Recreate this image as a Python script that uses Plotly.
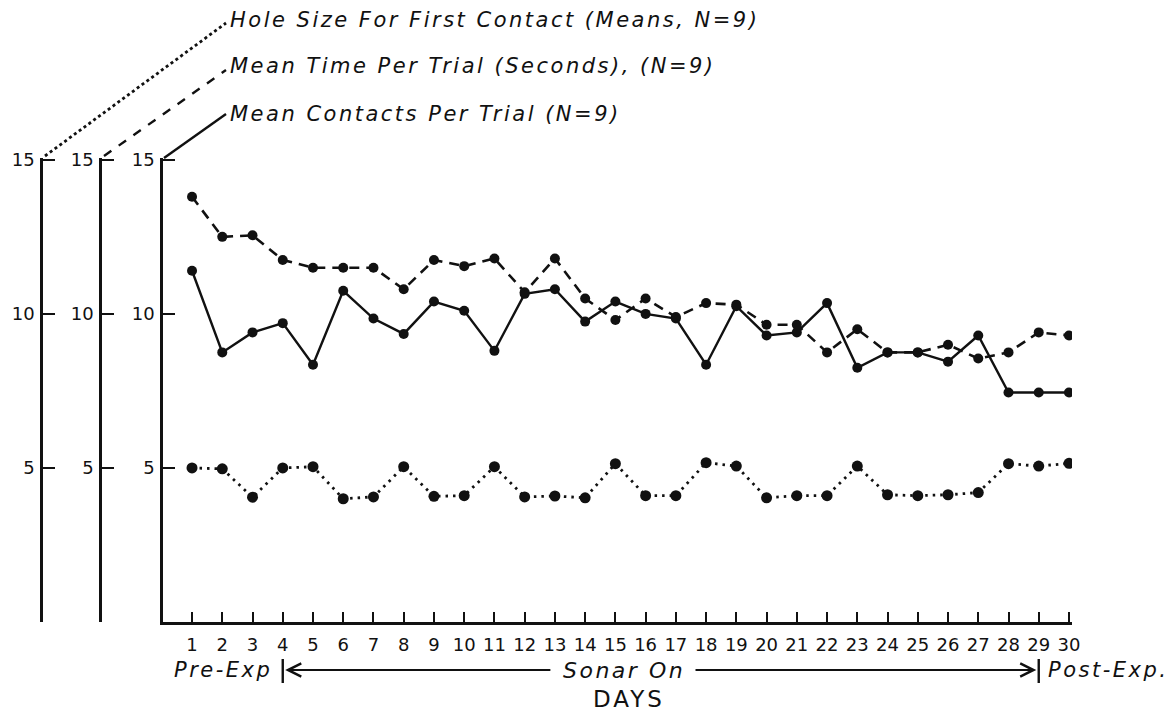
import plotly.graph_objects as go

# ---------------- data ----------------
days = [1, 2, 3, 4, 5, 6, 7, 8, 9, 10, 11, 12, 13, 14, 15,
        16, 17, 18, 19, 20, 21, 22, 23, 24, 25, 26, 27, 28, 29, 30]
mean_contacts = [11.4, 8.75, 9.4, 9.7, 8.35, 10.75, 9.85, 9.35, 10.4, 10.1,
                 8.8, 10.65, 10.8, 9.75, 10.4, 10.0, 9.85, 8.35, 10.25, 9.3,
                 9.4, 10.35, 8.25, 8.75, 8.75, 8.45, 9.3, 7.45, 7.45, 7.45]
mean_time = [13.8, 12.5, 12.55, 11.75, 11.5, 11.5, 11.5, 10.8, 11.75, 11.55,
             11.8, 10.7, 11.8, 10.5, 9.8, 10.5, 9.9, 10.35, 10.3, 9.65,
             9.65, 8.75, 9.5, 8.75, 8.75, 9.0, 8.55, 8.75, 9.4, 9.3]
hole_size = [5.0, 4.97, 4.05, 5.0, 5.04, 4.0, 4.06, 5.04, 4.08, 4.1,
             5.04, 4.06, 4.09, 4.03, 5.14, 4.1, 4.1, 5.17, 5.06, 4.03,
             4.1, 4.1, 5.06, 4.13, 4.1, 4.13, 4.2, 5.14, 5.06, 5.15]
y_tickvals = [0, 5, 10, 15]
y_ticktext = ["", "5", "10", "15"]
x_ticktext = [str(d) for d in days]

titles = ["Hole Size For First Contact (Means, N=9)",
          "Mean Time Per Trial (Seconds), (N=9)",
          "Mean Contacts Per Trial (N=9)"]

# ---------------- geometry (screen pixels; page body offsets figure by 8px) ----------------
OFF = 8
W, H = 1165, 704
ML, MR, MT, MB = 12, 101, 150, 90
PW = W - ML - MR
PH = H - MT - MB


def px(xs):
    return (xs - OFF - ML) / PW


def py(ys):
    return (H - MB - (ys - OFF)) / PH


INK = "#111111"
FONT = "DejaVu Sans"


def spaced(t, ls, italic=True):
    s = '<span style="letter-spacing:%spx">%s</span>' % (ls, t)
    return "<i>" + s + "</i>" if italic else s


fig = go.Figure()

fig.add_trace(go.Scatter(
    x=days, y=hole_size, yaxis="y3", mode="lines+markers",
    line=dict(color=INK, width=2.8, dash="2.5px,5px"),
    marker=dict(color=INK, size=11), name=titles[0], showlegend=False))
fig.add_trace(go.Scatter(
    x=days, y=mean_time, yaxis="y2", mode="lines+markers",
    line=dict(color=INK, width=2.6, dash="10px,7px"),
    marker=dict(color=INK, size=10), name=titles[1], showlegend=False))
fig.add_trace(go.Scatter(
    x=days, y=mean_contacts, yaxis="y", mode="lines+markers",
    line=dict(color=INK, width=2.4),
    marker=dict(color=INK, size=10), name=titles[2], showlegend=False))

yax_common = dict(range=[0, 15.06], tickvals=y_tickvals, ticktext=y_ticktext,
                  ticks="inside", ticklen=12, tickwidth=2.2, tickcolor=INK,
                  showline=True, linewidth=2.6, linecolor=INK, automargin=False,
                  showgrid=False, zeroline=False, ticklabelstandoff=2,
                  tickfont=dict(family=FONT, size=18, color=INK))

fig.update_layout(
    width=W, height=H, autosize=False,
    margin=dict(l=ML, r=MR, t=MT, b=MB),
    paper_bgcolor="white", plot_bgcolor="white",
    xaxis=dict(domain=[px(163), 1], range=[0.04, 30.10],
               tickvals=days, ticktext=x_ticktext, automargin=False,
               ticks="inside", ticklen=10, tickwidth=2.2, tickcolor=INK,
               showline=True, linewidth=2.6, linecolor=INK,
               showgrid=False, zeroline=False, ticklabelstandoff=5,
               tickfont=dict(family=FONT, size=18, color=INK)),
    yaxis=dict(anchor="x", **yax_common),
    yaxis2=dict(overlaying="y", anchor="free", position=px(100), side="left", **yax_common),
    yaxis3=dict(overlaying="y", anchor="free", position=px(41), side="left", **yax_common),
)

# leader lines to series titles
leaders = [((45, 156), (226, 23), "dot", 2.8),
           ((104, 156), (226, 70), "dash", 2.4),
           ((164, 158), (226, 114), "solid", 2.4)]
for (x0, y0), (x1, y1), dash, lw in leaders:
    fig.add_shape(type="line", xref="paper", yref="paper",
                  x0=px(x0), y0=py(y0), x1=px(x1), y1=py(y1),
                  line=dict(color=INK, width=lw, dash=dash))

title_rows = [20, 66, 114]
for t, yy in zip(titles, title_rows):
    fig.add_annotation(text=spaced(t, 2.5), xref="paper", yref="paper",
                       x=px(228), y=py(yy), xanchor="left", yanchor="middle",
                       showarrow=False, font=dict(family=FONT, size=21, color=INK))

# phase annotations under the x axis
yrow = py(670)
fig.add_annotation(text=spaced("Pre-Exp", 2.5), xref="paper", yref="paper",
                   x=px(172), y=yrow, xanchor="left", yanchor="middle", showarrow=False,
                   font=dict(family=FONT, size=21, color=INK))
fig.add_annotation(text=spaced("Sonar On", 2.5), xref="paper", yref="paper",
                   x=px(624), y=yrow, xanchor="center", yanchor="middle", showarrow=False,
                   font=dict(family=FONT, size=22, color=INK))
fig.add_annotation(text=spaced("Post-Exp.", 2.5), xref="paper", yref="paper",
                   x=px(1046), y=yrow, xanchor="left", yanchor="middle", showarrow=False,
                   font=dict(family=FONT, size=21, color=INK))
fig.add_annotation(text=spaced("DAYS", 3, italic=False), xref="paper", yref="paper",
                   x=px(629), y=py(699), xanchor="center", yanchor="middle", showarrow=False,
                   font=dict(family=FONT, size=23, color=INK))

# boundary bars
for xb in [4.0, 29.0]:
    fig.add_shape(type="line", xref="x", yref="paper", x0=xb, x1=xb,
                  y0=py(659), y1=py(683), line=dict(color=INK, width=2.4))

# arrows
fig.add_annotation(text="", xref="x", yref="paper", x=4.08, y=yrow,
                   axref="x", ayref="pixel", ax=12.9, ay=0,
                   showarrow=True, arrowhead=5, arrowsize=1.3, arrowwidth=2,
                   arrowcolor=INK, standoff=0, startstandoff=0)
fig.add_annotation(text="", xref="x", yref="paper", x=28.92, y=yrow,
                   axref="x", ayref="pixel", ax=17.6, ay=0,
                   showarrow=True, arrowhead=5, arrowsize=1.3, arrowwidth=2,
                   arrowcolor=INK, standoff=0, startstandoff=0)

fig.write_html("out.html")
